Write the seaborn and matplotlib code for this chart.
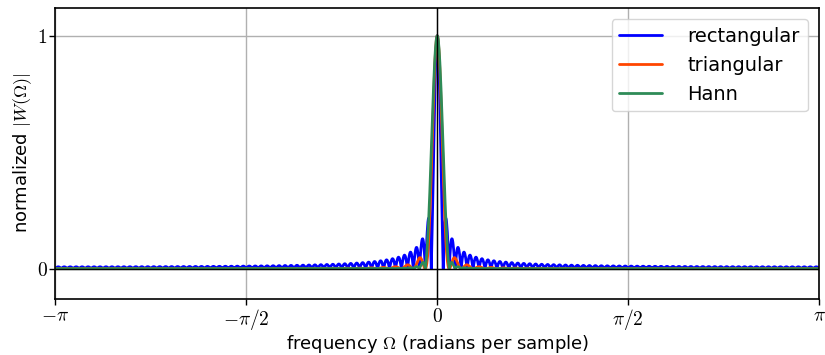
import numpy as np
import pandas as pd
import seaborn as sns
import matplotlib.pyplot as plt

# window length and FFT size used for the spectra
N = 128
NFFT = 2048

window_names = ['rectangular', 'triangular', 'Hann']
window_colors = ['blue', 'orangered', 'seagreen']

xtick_pos = [-np.pi, -np.pi / 2, 0, np.pi / 2, np.pi]
xtick_labels = [r'$-\pi$', r'$-\pi/2$', r'$0$', r'$\pi/2$', r'$\pi$']
ytick_pos = [0, 1]
ytick_labels = [r'$0$', r'$1$']

windows = {
    'rectangular': np.ones(N),
    'triangular': np.bartlett(N),
    'Hann': np.hanning(N),
}

# magnitude spectrum of each window, normalized to its peak
omega = np.fft.fftshift(np.fft.fftfreq(NFFT)) * 2 * np.pi
frames = []
for name in window_names:
    W = np.abs(np.fft.fftshift(np.fft.fft(windows[name], NFFT)))
    frames.append(pd.DataFrame({'omega': omega, 'mag': W / W.max(), 'window': name}))
df = pd.concat(frames, ignore_index=True)

sns.set_style('white')
plt.rcParams['mathtext.fontset'] = 'cm'
plt.rcParams['font.family'] = ['DejaVu Sans']
plt.rcParams['text.color'] = 'black'
plt.rcParams['axes.labelcolor'] = 'black'
plt.rcParams['xtick.color'] = 'black'
plt.rcParams['ytick.color'] = 'black'

fig, ax = plt.subplots(figsize=(8.25, 3.55), dpi=100)
fig.subplots_adjust(left=0.067, right=0.993, top=0.978, bottom=0.158)

sns.lineplot(data=df, x='omega', y='mag', hue='window', hue_order=window_names,
             palette=window_colors, linewidth=2, ax=ax, sort=False)

ax.axhline(0, color='black', linewidth=1, zorder=5)
ax.axvline(0, color='black', linewidth=1, zorder=5)

ax.set_xlim(-np.pi, np.pi)
ax.set_ylim(-0.13, 1.12)
ax.set_xticks(xtick_pos)
ax.set_xticklabels(xtick_labels, fontsize=14)
ax.set_yticks(ytick_pos)
ax.set_yticklabels(ytick_labels, fontsize=14)
ax.grid(True, color='#b0b0b0', linewidth=1)
ax.tick_params(axis='both', direction='out', length=4, width=1, color='black',
               bottom=True, left=True, pad=1.5)
for s in ax.spines.values():
    s.set_color('black')
    s.set_linewidth(1.2)

ax.set_xlabel(r'frequency $\Omega$ (radians per sample)', fontsize=13, labelpad=1)
ax.set_ylabel(r'normalized $|W(\Omega)|$', fontsize=13, labelpad=2)

ax.legend(loc='upper right', fontsize=14, title=None, framealpha=0.8,
          handlelength=2.2, handletextpad=1.3, borderaxespad=0.6)

fig.savefig('out.png', dpi=100)
